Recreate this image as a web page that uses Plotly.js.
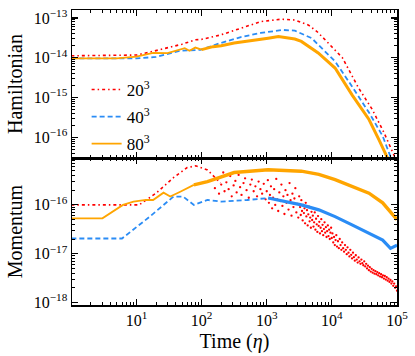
<!DOCTYPE html>
<html><head><meta charset="utf-8">
<script src="https://cdn.plot.ly/plotly-3.0.1.min.js"></script>
<style>html,body{margin:0;padding:0;background:#fff}</style>
</head><body><div id="chart" style="width:415px;height:356px"></div>
<script>
// ---- Legend labels ----
const seriesLabels = ['20<sup>3</sup>', '40<sup>3</sup>', '80<sup>3</sup>'];
const seriesColors = ['#ff0000', '#2a8cf5', '#ffa500'];

// ---- Hamiltonian (top panel) ----
const hamRedT = [1, 3, 6, 10, 15, 20, 30, 50, 80, 100, 195, 400, 810, 1660, 2700, 4400, 5900, 8000, 14500, 25700, 41700, 63000, 91000, 100000];
const hamRedV = [1.12e-14, 1.12e-14, 1.12e-14, 1.17e-14, 1.35e-14, 1.51e-14, 1.74e-14, 2.19e-14, 2.82e-14, 2.9e-14, 3.72e-14, 5.5e-14, 8.1e-14, 9.3e-14, 8.9e-14, 6.6e-14, 4.57e-14, 2.75e-14, 1.0e-14, 1.74e-15, 5.0e-16, 1.32e-16, 3.4e-17, 1.78e-17];

const hamBlueT = [1, 5, 10, 20, 47, 95, 195, 400, 810, 1780, 2700, 4900, 11200, 20400, 37150, 60300, 75900, 89000];
const hamBlueV = [9.6e-15, 9.5e-15, 9.6e-15, 1.05e-14, 1.5e-14, 1.58e-14, 2.34e-14, 3.3e-14, 4.2e-14, 5.0e-14, 4.8e-14, 3.1e-14, 8.1e-15, 1.9e-15, 4.2e-16, 1.07e-16, 4.2e-17, 2.0e-17];

const hamOrangeT = [1, 5, 10, 18, 30, 47, 55, 65, 80, 100, 150, 200, 316, 1050, 1510, 2700, 3400, 6170, 11200, 20400, 37150, 52500, 70800, 83000];
const hamOrangeV = [9.6e-15, 9.6e-15, 1.07e-14, 1.32e-14, 1.3e-14, 1.58e-14, 1.74e-14, 1.5e-14, 1.8e-14, 1.6e-14, 1.9e-14, 2.0e-14, 2.34e-14, 3.1e-14, 3.4e-14, 2.95e-14, 2.57e-14, 1.32e-14, 5.5e-15, 1.17e-15, 2.8e-16, 8.9e-17, 3.4e-17, 1.8e-17];

// ---- Momentum (bottom panel) ----
const momRedT = [1, 5, 11, 20, 37, 60, 81, 123, 195];
const momRedV = [1e-16, 1e-16, 1e-16, 1.74e-16, 3.6e-16, 5.8e-16, 6.3e-16, 5.2e-16, 2.8e-16];

const momRedScatterT = [
  160, 175, 185, 200, 215, 225, 240, 260, 275, 290, 310, 330, 345, 370, 390, 410, 440, 465, 490, 530, 560, 590, 630, 670, 710, 750, 800, 850, 900, 960,
  1000, 1040, 1080, 1120, 1160, 1210, 1250, 1300, 1350, 1400, 1450, 1500, 1560, 1620, 1680, 1740, 1800, 1870, 1940, 2010, 2080, 2160, 2240, 2320, 2400, 2480, 2570, 2660, 2750, 2850, 2950, 3050, 3150,
  3250, 3330, 3400, 3480, 3560, 3640, 3720, 3800, 3880, 3970, 4060, 4150, 4250, 4350, 4450, 4550, 4650, 4760, 4870, 4980, 5100, 5220, 5340, 5460, 5590, 5720, 5850, 5990, 6130, 6270, 6420, 6570, 6720, 6880, 7040, 7200, 7370, 7550, 7720, 7900, 8090, 8280, 8470, 8670, 8870, 9080, 9290, 9510, 9730, 9960,
  10200, 10500, 10800, 11100, 11400, 11700, 12000, 12400, 12800, 13200, 13600, 14000, 14400, 14900, 15400, 15900, 16400, 16900, 17400, 18000, 18600, 19200, 19800, 20400, 21100, 21800, 22500, 23300, 24100, 24900, 25700, 26600, 27500, 28400, 29400, 30400, 31400,
  32500, 33600, 34700, 35800, 37000, 38200, 39500, 40800, 42200, 43600, 45100, 46600, 48200, 49800, 51500, 53200, 55000, 56900, 58800, 60800, 62900, 65000, 67200, 69500, 71800, 74200, 76700, 79300, 82000, 84700, 87600, 90500, 93600, 96700, 100000];
const momRedScatterV = [
  2.2e-16, 3.4e-16, 1.7e-16, 2.6e-16, 4.6e-16, 1.9e-16, 2.9e-16, 2.1e-16, 3.9e-16, 1.5e-16, 2.5e-16, 3.1e-16, 1.8e-16, 4.1e-16, 2.3e-16, 1.6e-16, 2.8e-16, 3.5e-16, 2.0e-16, 1.4e-16, 2.6e-16, 3.3e-16, 1.9e-16, 2.4e-16, 1.5e-16, 3.0e-16, 2.1e-16, 1.7e-16, 2.7e-16, 1.3e-16,
  1.9e-16, 3.2e-16, 1.1e-16, 1.6e-16, 2.4e-16, 8.5e-17, 1.4e-16, 2.1e-16, 1.0e-16, 3.4e-16, 1.3e-16, 7.5e-17, 1.8e-16, 1.2e-16, 2.6e-16, 9.5e-17, 1.5e-16, 6.5e-17, 2.0e-16, 1.1e-16, 1.6e-16, 8e-17, 2.8e-16, 1.25e-16, 6e-17, 1.7e-16, 9e-17, 1.35e-16, 2.2e-16, 7e-17, 1.05e-16, 5.5e-17, 1.5e-16,
  9e-17, 6.2e-17, 1.25e-16, 7.5e-17, 4.8e-17, 1.0e-16, 6.8e-17, 8.5e-17, 4.2e-17, 1.1e-16, 5.8e-17, 7.8e-17, 3.8e-17, 6.4e-17, 9.2e-17, 4.6e-17, 5.5e-17, 3.4e-17, 7.2e-17, 4.9e-17, 6e-17, 3.6e-17, 4.4e-17, 7e-17, 3.1e-17, 5.2e-17, 4.0e-17, 2.8e-17, 5.9e-17, 3.7e-17, 4.5e-17, 2.6e-17, 3.4e-17, 5.1e-17, 2.9e-17, 3.9e-17, 2.4e-17, 3.2e-17, 4.4e-17, 2.7e-17, 3.5e-17, 2.2e-17, 2.9e-17, 3.8e-17, 2.3e-17, 3.1e-17, 2.0e-17, 2.7e-17, 3.4e-17, 2.1e-17,
  2.6e-17, 1.7e-17, 2.2e-17, 1.5e-17, 1.9e-17, 2.4e-17, 1.4e-17, 1.8e-17, 1.3e-17, 2.0e-17, 1.5e-17, 1.2e-17, 1.7e-17, 1.3e-17, 1.1e-17, 1.5e-17, 1.2e-17, 9.8e-18, 1.35e-17, 1.05e-17, 8.8e-18, 1.2e-17, 9.5e-18, 8e-18, 1.05e-17, 8.5e-18, 7.2e-18, 9.3e-18, 7.6e-18, 6.6e-18, 8.4e-18, 7.0e-18, 6.2e-18, 7.6e-18, 6.4e-18, 5.8e-18, 7.0e-18,
  5.5e-18, 6.2e-18, 5.0e-18, 5.7e-18, 4.6e-18, 5.3e-18, 4.3e-18, 4.9e-18, 4.1e-18, 4.6e-18, 3.9e-18, 4.4e-18, 3.8e-18, 4.2e-18, 3.6e-18, 4.0e-18, 3.4e-18, 3.8e-18, 3.3e-18, 3.6e-18, 3.1e-18, 3.5e-18, 2.95e-18, 3.3e-18, 2.8e-18, 3.1e-18, 2.65e-18, 2.9e-18, 2.45e-18, 2.7e-18, 2.2e-18, 2.45e-18, 2.0e-18, 2.15e-18, 1.75e-18];

const momBlueT = [1, 6, 16, 37, 52, 76, 123, 200, 500, 1050, 3400, 6300, 11200, 20400, 37150, 60300, 79400, 95500, 100000];
const momBlueV = [2.05e-17, 2.05e-17, 5.75e-17, 1.48e-16, 1.48e-16, 1.0e-16, 1.26e-16, 1.17e-16, 1.26e-16, 1.38e-16, 1.0e-16, 7.9e-17, 5.75e-17, 3.9e-17, 2.6e-17, 1.9e-17, 1.29e-17, 1.5e-17, 1.5e-17];

const momOrangeT = [1, 3, 6.2, 9, 14, 18, 26, 33, 47, 76, 123, 316, 1050, 3400, 6300, 11200, 20400, 37150, 60300, 95500, 100000];
const momOrangeV = [5.3e-17, 5.3e-17, 1.0e-16, 1.17e-16, 1.26e-16, 1.26e-16, 1.78e-16, 1.48e-16, 1.86e-16, 2.57e-16, 3.0e-16, 4.6e-16, 5.25e-16, 4.9e-16, 4.2e-16, 3.3e-16, 2.4e-16, 1.74e-16, 1.1e-16, 5.4e-17, 5.0e-17];

// ---- Ticks ----
const xTickVals = [10, 100, 1000, 10000, 100000];
const xTickText = ['10<sup>1</sup>', '10<sup>2</sup>', '10<sup>3</sup>', '10<sup>4</sup>', '10<sup>5</sup>'];
const hamTickVals = [1e-13, 1e-14, 1e-15, 1e-16];
const hamTickText = ['10<sup>−13</sup>', '10<sup>−14</sup>', '10<sup>−15</sup>', '10<sup>−16</sup>'];
const momTickVals = [1e-16, 1e-17, 1e-18];
const momTickText = ['10<sup>−16</sup>', '10<sup>−17</sup>', '10<sup>−18</sup>'];

function minorVals(lo, hi) {
  const v = [];
  for (let e = lo; e < hi; e++) for (let m = 2; m <= 9; m++) v.push(m * Math.pow(10, e));
  return v;
}
function part(t, v, cond) {
  const x = [], y = [];
  t.forEach((ti, i) => { if (cond(ti)) { x.push(ti); y.push(v[i]); } });
  return {x, y};
}

const redDash = '3px,3px,1.5px,3px';
const blueDash = '5px,3px';
const traces = [];
// Hamiltonian
traces.push({x: hamRedT, y: hamRedV, xaxis: 'x', yaxis: 'y', mode: 'lines', name: seriesLabels[0], legendgroup: 'a',
  line: {color: seriesColors[0], width: 1.6, dash: redDash}});
traces.push({x: hamBlueT, y: hamBlueV, xaxis: 'x', yaxis: 'y', mode: 'lines', name: seriesLabels[1], legendgroup: 'b',
  line: {color: seriesColors[1], width: 1.8, dash: blueDash}});
let p = part(hamOrangeT, hamOrangeV, t => t <= 100);
traces.push({x: p.x, y: p.y, xaxis: 'x', yaxis: 'y', mode: 'lines', name: seriesLabels[2], legendgroup: 'c',
  line: {color: seriesColors[2], width: 1.8}});
p = part(hamOrangeT, hamOrangeV, t => t >= 100);
traces.push({x: p.x, y: p.y, xaxis: 'x', yaxis: 'y', mode: 'lines', showlegend: false, legendgroup: 'c',
  line: {color: seriesColors[2], width: 3}});
// Momentum
traces.push({x: momRedT, y: momRedV, xaxis: 'x2', yaxis: 'y2', mode: 'lines', showlegend: false, legendgroup: 'a',
  line: {color: seriesColors[0], width: 1.6, dash: redDash}});
traces.push({x: momRedScatterT, y: momRedScatterV, xaxis: 'x2', yaxis: 'y2', mode: 'markers', showlegend: false, legendgroup: 'a',
  marker: {color: seriesColors[0], size: 2.3}});
p = part(momBlueT, momBlueV, t => t <= 1050);
traces.push({x: p.x, y: p.y, xaxis: 'x2', yaxis: 'y2', mode: 'lines', showlegend: false, legendgroup: 'b',
  line: {color: seriesColors[1], width: 1.8, dash: blueDash}});
p = part(momBlueT, momBlueV, t => t >= 1050);
traces.push({x: p.x, y: p.y, xaxis: 'x2', yaxis: 'y2', mode: 'lines', showlegend: false, legendgroup: 'b',
  line: {color: seriesColors[1], width: 3.2}});
p = part(momOrangeT, momOrangeV, t => t <= 76);
traces.push({x: p.x, y: p.y, xaxis: 'x2', yaxis: 'y2', mode: 'lines', showlegend: false, legendgroup: 'c',
  line: {color: seriesColors[2], width: 1.8}});
p = part(momOrangeT, momOrangeV, t => t >= 76);
traces.push({x: p.x, y: p.y, xaxis: 'x2', yaxis: 'y2', mode: 'lines', showlegend: false, legendgroup: 'c',
  line: {color: seriesColors[2], width: 3.4}});

const font = {family: 'Liberation Serif, Times New Roman, serif', color: '#000'};
const common = {
  type: 'log', showline: true, linecolor: '#000', linewidth: 1.5, mirror: 'ticks',
  ticks: 'inside', ticklen: 6, tickwidth: 1.2, tickcolor: '#000', showgrid: false, zeroline: false,
  tickfont: Object.assign({size: 16}, font), tickmode: 'array'
};
const xMinor = {ticks: 'inside', ticklen: 3, tickwidth: 1, tickcolor: '#000', tickmode: 'array', tickvals: minorVals(0, 5), showgrid: false};
const divTop = 148 / 295;
const layout = {
  width: 415, height: 356,
  margin: {l: 72, r: 18, t: 10, b: 51},
  paper_bgcolor: '#fff', plot_bgcolor: '#fff',
  font: font,
  showlegend: true,
  legend: {x: 0.045, y: 0.79, xanchor: 'left', yanchor: 'top', bgcolor: 'rgba(0,0,0,0)',
    font: Object.assign({size: 17}, font), tracegroupgap: 2, itemwidth: 30},
  xaxis: Object.assign({}, common, {anchor: 'y', range: [0.01, 5.0], tickvals: xTickVals, ticktext: xTickText,
    showticklabels: false, minor: xMinor}),
  xaxis2: Object.assign({}, common, {anchor: 'y2', range: [0.01, 5.0], tickvals: xTickVals, ticktext: xTickText,
    minor: xMinor, title: {text: 'Time (<i>η</i>)', font: Object.assign({size: 20}, font), standoff: 6}}),
  yaxis: Object.assign({}, common, {domain: [1 - divTop, 1], anchor: 'x', range: [-16.52, -12.8],
    tickvals: hamTickVals, ticktext: hamTickText,
    minor: {ticks: 'inside', ticklen: 3, tickwidth: 1, tickcolor: '#000', tickmode: 'array', tickvals: minorVals(-17, -12), showgrid: false},
    title: {text: 'Hamiltonian', font: Object.assign({size: 20}, font), standoff: 6}}),
  yaxis2: Object.assign({}, common, {domain: [0, 1 - divTop], anchor: 'x2', range: [-18.05, -15.04],
    tickvals: momTickVals, ticktext: momTickText,
    minor: {ticks: 'inside', ticklen: 3, tickwidth: 1, tickcolor: '#000', tickmode: 'array', tickvals: minorVals(-19, -14), showgrid: false},
    title: {text: 'Momentum', font: Object.assign({size: 20}, font), standoff: 6}})
};
Plotly.newPlot('chart', traces, layout, {staticPlot: true, displayModeBar: false});
</script></body></html>
